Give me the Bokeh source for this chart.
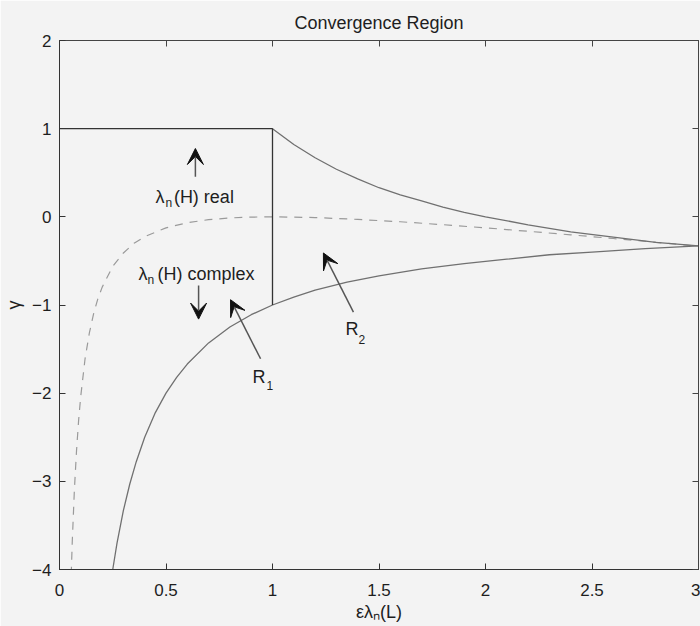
from bokeh.plotting import figure
from bokeh.models import Range1d, LinearAxis, FixedTicker, Arrow, VeeHead, Label
from bokeh.embed import file_html
from bokeh.resources import INLINE

# ---------------- data ----------------
x_ticks = [0, 0.5, 1, 1.5, 2, 2.5, 3]
x_tick_labels = ["0", "0.5", "1", "1.5", "2", "2.5", "3"]
y_ticks = [-4, -3, -2, -1, 0, 1, 2]
y_tick_labels = ["\u22124", "\u22123", "\u22122", "\u22121", "0", "1", "2"]

# boundary of the "lambda real" box
boundary_x = [0.0, 1.0, 1.0]
boundary_y = [1.0, 1.0, -1.0]

# upper solid curve (from the box corner to x = 3)
upper_x = [1.0, 1.1, 1.2, 1.3, 1.4, 1.5, 1.6, 1.7, 1.8, 1.9, 2.0,
           2.2, 2.4, 2.6, 2.8, 3.0]
upper_y = [1.0, 0.82, 0.67, 0.54, 0.43, 0.33, 0.25, 0.18, 0.11, 0.05, 0.0,
           -0.09, -0.17, -0.23, -0.29, -0.33]

# lower solid curve
lower_x = [0.25, 0.27, 0.3, 0.33, 0.36, 0.4, 0.45, 0.5, 0.55, 0.6, 0.7,
           0.8, 0.9, 1.0, 1.1, 1.2, 1.35, 1.5, 1.7, 1.9, 2.1, 2.3, 2.5,
           2.75, 3.0]
lower_y = [-4.0, -3.7, -3.33, -3.03, -2.78, -2.5, -2.22, -2.0, -1.82, -1.67,
           -1.43, -1.25, -1.11, -1.0, -0.91, -0.83, -0.74, -0.67, -0.59,
           -0.53, -0.48, -0.43, -0.40, -0.36, -0.33]

# dashed curve
dash_x = [0.055, 0.06, 0.07, 0.08, 0.09, 0.1, 0.12, 0.14, 0.16, 0.18, 0.2,
          0.25, 0.3, 0.35, 0.4, 0.5, 0.6, 0.7, 0.8, 0.9, 1.0, 1.2, 1.4,
          1.6, 1.8, 2.0, 2.2, 2.4, 2.6, 2.8, 3.0]
dash_y = [-4.06, -3.68, -3.09, -2.65, -2.30, -2.03, -1.61, -1.32, -1.10,
          -0.93, -0.80, -0.56, -0.41, -0.30, -0.225, -0.125, -0.067, -0.032,
          -0.0125, -0.003, 0.0, -0.008, -0.029, -0.056, -0.089, -0.125,
          -0.164, -0.204, -0.246, -0.289, -0.333]

FONT = "Liberation Sans"
BG = "#f3f3f3"
INK = "#1e1e1e"

p = figure(width=700, height=626,
           x_range=Range1d(0, 3), y_range=Range1d(-4, 2),
           output_backend="svg", toolbar_location=None,
           min_border_left=59, min_border_right=2,
           min_border_top=40, min_border_bottom=57,
           background_fill_color=BG, border_fill_color=BG,
           title="Convergence Region",
           x_axis_label="\u03b5\u03bb\u2099(L)",
           y_axis_label="\u03b3")
p.grid.visible = False
p.outline_line_color = "#444444"

p.title.text_font = FONT
p.title.text_font_size = "18px"
p.title.text_font_style = "normal"
p.title.text_color = INK
p.title.align = "center"
p.title.standoff = 15

for ax, ticks, labels in ((p.xaxis[0], x_ticks, x_tick_labels),
                          (p.yaxis[0], y_ticks, y_tick_labels)):
    ax.ticker = FixedTicker(ticks=ticks)
    ax.major_label_overrides = {t: l for t, l in zip(ticks, labels)}
    ax.major_label_text_font = FONT
    ax.major_label_text_font_size = "17px"
    ax.major_label_text_color = INK
    ax.major_tick_in = 6
    ax.major_tick_out = 0
    ax.minor_tick_line_color = None
    ax.axis_line_color = "#333333"
    ax.major_tick_line_color = "#333333"
    ax.axis_label_text_font = FONT
    ax.axis_label_text_font_size = "18px"
    ax.axis_label_text_font_style = "normal"
    ax.axis_label_text_color = INK

p.xaxis[0].major_label_standoff = 14
p.xaxis[0].axis_label_standoff = 3
p.yaxis[0].major_label_standoff = 8
p.yaxis[0].axis_label_standoff = 5

for side, ticks in (("above", x_ticks), ("right", y_ticks)):
    ax = LinearAxis(ticker=FixedTicker(ticks=ticks),
                    major_label_text_font_size="1px",
                    major_label_text_color=None,
                    major_label_standoff=0,
                    major_tick_in=6, major_tick_out=0,
                    minor_tick_line_color=None,
                    axis_line_color="#444444",
                    major_tick_line_color="#444444")
    p.add_layout(ax, side)

# curves
p.line(dash_x, dash_y, line_color="#9a9a9a", line_width=1.2, line_dash="8 7")
p.line(lower_x, lower_y, line_color="#707070", line_width=1.3)
p.line(upper_x, upper_y, line_color="#707070", line_width=1.3)
p.line(boundary_x, boundary_y, line_color="#333333", line_width=1.3)

# arrows (start x, start y, end x, end y)
arrows = [
    (0.638, 0.455, 0.638, 0.775),
    (0.653, -0.78, 0.653, -1.16),
    (0.944, -1.61, 0.803, -0.94),
    (1.380, -1.08, 1.239, -0.41),
]
for xs, ys, xe, ye in arrows:
    p.add_layout(Arrow(x_start=xs, y_start=ys, x_end=xe, y_end=ye,
                       line_color="#555555", line_width=1.5,
                       end=VeeHead(size=16, fill_color="#111111",
                                   line_color="#111111", line_width=1)))

# text pieces: (text, x, y, size)
texts = [
    ("\u03bb", 0.451, 0.227, "18px"),
    ("n", 0.498, 0.159, "12px"),
    ("(H) real", 0.537, 0.227, "18px"),
    ("\u03bb", 0.371, -0.648, "18px"),
    ("n", 0.413, -0.716, "12px"),
    ("(H) complex", 0.460, -0.648, "18px"),
    ("R", 0.906, -1.82, "18px"),
    ("1", 0.972, -1.91, "12px"),
    ("R", 1.343, -1.273, "18px"),
    ("2", 1.404, -1.386, "12px"),
]
for t, x, y, s in texts:
    p.add_layout(Label(x=x, y=y, text=t, text_font=FONT, text_font_size=s,
                       text_color=INK, text_align="left",
                       text_baseline="alphabetic"))

open("out.html", "w").write(file_html(p, INLINE))
